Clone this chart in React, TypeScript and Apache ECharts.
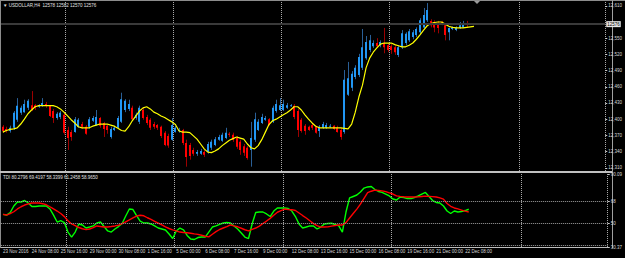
import React, { useEffect, useRef } from "react";
import * as echarts from "echarts";

// ---------- data ----------
const opens = [12386, 12382, 12378, 12384, 12399, 12412, 12413, 12421, 12426, 12426,
  12423, 12425, 12428, 12425, 12415, 12402, 12404, 12408, 12380, 12376,
  12376, 12386, 12391, 12386, 12386, 12397, 12389, 12402, 12393, 12388,
  12367, 12380, 12384, 12395, 12417, 12419, 12421, 12402, 12395, 12417,
  12404, 12399, 12391, 12389, 12386, 12375, 12369, 12362, 12376, 12378,
  12380, 12356, 12352, 12343, 12336, 12336, 12339, 12339, 12347, 12352,
  12362, 12360, 12365, 12373, 12371, 12365, 12358, 12350, 12347, 12343,
  12362, 12380, 12393, 12399, 12400, 12395, 12415, 12417, 12417, 12421,
  12425, 12425, 12415, 12399, 12388, 12386, 12389, 12386, 12378, 12384,
  12384, 12386, 12388, 12384, 12380, 12376, 12445, 12458, 12478, 12482,
  12495, 12513, 12528, 12535, 12541, 12537, 12541, 12537, 12535, 12533,
  12519, 12533, 12541, 12546, 12552, 12556, 12561, 12570, 12583, 12582,
  12580, 12578, 12580, 12574, 12561, 12567, 12565, 12569, 12570, 12578];
const closes = [12378, 12378, 12384, 12412, 12425, 12421, 12428, 12434, 12419, 12421,
  12426, 12430, 12425, 12406, 12402, 12410, 12412, 12375, 12365, 12367,
  12400, 12399, 12386, 12373, 12400, 12402, 12404, 12388, 12382, 12380,
  12382, 12384, 12402, 12437, 12434, 12428, 12400, 12408, 12421, 12402,
  12393, 12384, 12386, 12384, 12369, 12352, 12351, 12389, 12384, 12380,
  12356, 12330, 12332, 12336, 12339, 12341, 12334, 12354, 12358, 12363,
  12367, 12371, 12375, 12371, 12362, 12349, 12343, 12338, 12328, 12365,
  12400, 12395, 12404, 12402, 12389, 12421, 12428, 12426, 12428, 12426,
  12426, 12404, 12380, 12378, 12378, 12380, 12384, 12375, 12386, 12391,
  12389, 12388, 12382, 12376, 12367, 12473, 12476, 12484, 12495, 12515,
  12533, 12543, 12546, 12541, 12535, 12543, 12533, 12528, 12528, 12524,
  12533, 12559, 12558, 12563, 12561, 12567, 12583, 12593, 12602, 12574,
  12570, 12569, 12578, 12556, 12569, 12570, 12570, 12574, 12576, 12576];
const highs = [12389, 12386, 12388, 12415, 12439, 12425, 12436, 12437, 12452, 12428,
  12428, 12439, 12432, 12426, 12419, 12413, 12415, 12412, 12386, 12380,
  12404, 12402, 12395, 12389, 12404, 12406, 12417, 12404, 12395, 12391,
  12386, 12388, 12406, 12449, 12437, 12436, 12425, 12412, 12425, 12421,
  12408, 12402, 12395, 12391, 12388, 12378, 12373, 12402, 12388, 12384,
  12382, 12362, 12356, 12347, 12343, 12345, 12343, 12358, 12362, 12367,
  12371, 12375, 12384, 12376, 12375, 12369, 12362, 12354, 12350, 12395,
  12412, 12400, 12410, 12406, 12402, 12425, 12436, 12439, 12436, 12430,
  12428, 12428, 12419, 12402, 12391, 12388, 12391, 12388, 12389, 12395,
  12393, 12391, 12389, 12388, 12384, 12491, 12506, 12489, 12500, 12521,
  12567, 12554, 12556, 12546, 12550, 12546, 12569, 12541, 12539, 12537,
  12537, 12565, 12561, 12567, 12565, 12570, 12587, 12606, 12615, 12585,
  12583, 12582, 12582, 12578, 12570, 12572, 12572, 12580, 12582, 12582];
const lows = [12375, 12375, 12375, 12380, 12395, 12408, 12412, 12417, 12415, 12417,
  12421, 12423, 12421, 12404, 12393, 12399, 12400, 12371, 12343, 12360,
  12375, 12384, 12382, 12371, 12382, 12395, 12388, 12384, 12367, 12373,
  12364, 12378, 12382, 12393, 12413, 12415, 12397, 12399, 12391, 12399,
  12389, 12380, 12382, 12380, 12365, 12350, 12347, 12360, 12375, 12375,
  12352, 12312, 12325, 12332, 12332, 12334, 12330, 12336, 12343, 12350,
  12360, 12358, 12363, 12367, 12358, 12345, 12334, 12332, 12325, 12312,
  12358, 12378, 12391, 12397, 12388, 12393, 12412, 12415, 12415, 12419,
  12423, 12400, 12367, 12375, 12371, 12378, 12380, 12373, 12367, 12382,
  12382, 12384, 12380, 12375, 12362, 12373, 12443, 12452, 12474, 12478,
  12491, 12510, 12524, 12532, 12532, 12533, 12522, 12524, 12521, 12519,
  12515, 12530, 12537, 12543, 12548, 12552, 12558, 12569, 12580, 12570,
  12561, 12559, 12574, 12546, 12546, 12565, 12563, 12567, 12569, 12570];

const maValues = [12376, 12379, 12381, 12382, 12384, 12391, 12400, 12410, 12417, 12423,
  12425, 12425, 12425, 12425, 12425, 12423, 12419, 12413, 12406, 12399,
  12393, 12386, 12384, 12384, 12384, 12387, 12389, 12391, 12391, 12391,
  12389, 12387, 12383, 12379, 12378, 12386, 12397, 12406, 12415, 12421,
  12423, 12419, 12413, 12410, 12406, 12403, 12399, 12395, 12390, 12378,
  12376, 12376, 12375, 12369, 12363, 12354, 12345, 12339, 12338, 12341,
  12345, 12351, 12356, 12361, 12364, 12367, 12365, 12363, 12354, 12347,
  12345, 12351, 12362, 12376, 12390, 12397, 12400, 12404, 12408, 12412,
  12417, 12423, 12423, 12417, 12408, 12400, 12393, 12387, 12384, 12384,
  12384, 12384, 12384, 12384, 12384, 12383, 12382, 12391, 12413, 12441,
  12463, 12495, 12513, 12524, 12532, 12539, 12541, 12541, 12541, 12538,
  12536, 12534, 12534, 12537, 12541, 12548, 12556, 12565, 12573, 12577,
  12579, 12580, 12580, 12576, 12572, 12570, 12569, 12569, 12569, 12570,
  12571, 12572];

const tdiGreen = [57.1, 56.5, 58.6, 63.9, 67.2, 67.2, 68.4, 66.4, 63.5, 63.5,
  63.9, 63.9, 63.9, 61.5, 56.5, 50.8, 52.0, 50.4, 42.6, 38.5,
  42.6, 49.2, 48.4, 45.9, 46.7, 47.6, 50.0, 50.8, 47.1, 43.5,
  42.6, 45.1, 47.1, 49.6, 55.7, 61.5, 61.0, 56.1, 51.6, 50.0,
  50.0, 49.2, 47.6, 45.9, 45.1, 44.3, 41.0, 37.3, 43.5, 45.9,
  44.3, 39.8, 36.9, 36.5, 38.1, 38.5, 38.5, 42.6, 46.7, 47.6,
  48.8, 50.0, 50.4, 50.0, 47.6, 45.1, 41.8, 38.5, 37.3, 49.2,
  58.6, 59.0, 59.0, 57.4, 55.3, 59.8, 62.3, 62.3, 62.3, 61.9,
  59.8, 55.3, 49.2, 45.9, 46.7, 47.6, 47.6, 45.1, 46.7, 49.2,
  49.6, 49.8, 48.8, 47.6, 42.6, 59.0, 70.5, 71.7, 72.9, 75.4,
  78.6, 79.5, 79.9, 77.4, 75.8, 75.0, 73.7, 72.1, 69.6, 68.8,
  71.3, 70.9, 70.0, 70.0, 70.9, 72.1, 73.7, 75.0, 71.7, 68.4,
  66.8, 66.4, 63.9, 59.8, 57.8, 59.8, 59.0, 59.4, 60.2, 61.25];
const tdiRed = [57.1, 56.5, 57.6, 59.2, 61.5, 63.3, 64.7, 65.7, 66.4, 66.4,
  66.4, 65.8, 64.9, 63.3, 61.5, 59.8, 57.8, 55.2, 51.8, 49.2,
  47.8, 46.3, 45.3, 44.6, 45.1, 46.3, 47.6, 47.1, 46.7, 46.7,
  47.1, 47.6, 48.2, 49.5, 51.0, 52.5, 54.2, 55.7, 56.3, 55.9,
  54.3, 52.9, 51.4, 49.9, 48.4, 46.9, 45.5, 44.4, 43.5, 42.6,
  42.2, 42.0, 41.6, 41.1, 40.7, 40.0, 39.2, 38.7, 40.8, 42.9,
  44.7, 45.9, 47.1, 48.4, 47.6, 46.9, 45.7, 44.5, 43.6, 44.8,
  45.9, 47.5, 49.6, 51.6, 53.8, 56.3, 58.8, 60.1, 61.4, 61.1,
  60.9, 60.2, 58.2, 56.1, 54.1, 51.8, 49.5, 47.8, 46.7, 46.7,
  46.8, 47.4, 48.0, 48.4, 48.4, 50.3, 54.1, 57.8, 61.4, 65.4,
  70.1, 74.8, 76.0, 76.9, 76.6, 76.3, 75.7, 74.7, 73.7, 72.2,
  71.8, 71.5, 71.3, 71.3, 71.3, 71.4, 71.7, 72.0, 71.8, 71.6,
  71.3, 70.5, 69.5, 66.0, 63.7, 62.3, 61.5, 60.6, 59.7, 58.97];

const timeLabels = ["23 Nov 2016", "24 Nov 08:00", "25 Nov 16:00", "29 Nov 00:00", "30 Nov 08:00",
  "1 Dec 16:00", "5 Dec 00:00", "6 Dec 08:00", "7 Dec 16:00", "9 Dec 00:00", "12 Dec 08:00",
  "13 Dec 16:00", "15 Dec 00:00", "16 Dec 08:00", "19 Dec 16:00", "21 Dec 00:00", "22 Dec 08:00"];
const priceTicks = [12310, 12340, 12370, 12400, 12430, 12460, 12490, 12520, 12550, 12610];
const lastPrice = 12576;
const priceMin = 12304;
const priceMax = 12617;
const tdiLevels = [68, 50, 32];
const tdiMin = 30.37;
const tdiMax = 90.09;
const tdiLabelValues = [tdiMax, 68, 50, tdiMin];
const weekStartSlots = [18, 48, 78, 108, 144];
const SLOT_COUNT = 168;
const LABEL_STEP = 8;

const FONT = "Liberation Sans, Arial, sans-serif";

export default function App() {
  const ref = useRef<HTMLDivElement>(null);

  useEffect(() => {
    document.body.style.margin = "0";
    const chart = echarts.init(ref.current as HTMLDivElement, null, { renderer: "svg" });
    const slots = Array.from({ length: SLOT_COUNT }, (_, i) => String(i));
    const candleData = opens.map((o, i) => [i, o, closes[i], lows[i], highs[i]]);

    const labelShown = (i: number) => i % LABEL_STEP === 0 && i / LABEL_STEP < timeLabels.length;
    const gridLine = (i: number) => weekStartSlots.indexOf(i) >= 0;
    const splitLine = {
      show: true,
      interval: gridLine,
      lineStyle: { color: "#a8a8a8", type: "dotted", width: 1 },
    };

    const option: any = {
      animation: false,
      backgroundColor: "#000000",
      grid: [
        { left: 1, right: 13, top: 2, height: 169 },
        { left: 1, right: 13, top: 174, height: 73 },
      ],
      xAxis: [
        {
          type: "category", gridIndex: 0, data: slots, boundaryGap: true,
          axisLine: { show: false }, axisTick: { show: false }, axisLabel: { show: false },
          splitLine,
        },
        {
          type: "category", gridIndex: 1, data: slots, boundaryGap: true,
          axisLine: { show: true, lineStyle: { color: "#bdbdbd", width: 1 } },
          axisTick: { show: false },
          axisLabel: {
            interval: (i: number) => labelShown(i),
            formatter: (_v: string, i: number) => timeLabels[i / LABEL_STEP] ?? "",
            align: "left", fontSize: 4.5, color: "#d8d8d8", margin: 2, fontFamily: FONT,
          },
          splitLine,
        },
      ],
      yAxis: [
        {
          type: "value", gridIndex: 0, position: "right", min: priceMin, max: priceMax,
          axisLine: { show: false }, splitLine: { show: false },
          axisTick: { show: true, customValues: priceTicks, length: 2, lineStyle: { color: "#c8c8c8" } },
          axisLabel: { customValues: priceTicks, fontSize: 4.5, color: "#d8d8d8", margin: 3, fontFamily: FONT },
        },
        {
          type: "value", gridIndex: 1, position: "right", min: tdiMin, max: tdiMax,
          axisLine: { show: false }, splitLine: { show: false },
          axisTick: { show: true, customValues: tdiLabelValues, length: 2, lineStyle: { color: "#c8c8c8" } },
          axisLabel: {
            customValues: tdiLabelValues, fontSize: 4.5, color: "#d8d8d8", margin: 3, fontFamily: FONT,
            formatter: (v: number) => (tdiLevels.indexOf(v) >= 0 ? String(v) : v.toFixed(2)),
          },
        },
      ],
      series: [
        {
          name: "bid", type: "line", xAxisIndex: 0, yAxisIndex: 0, data: [], z: 1,
          markLine: {
            silent: true, symbol: "none",
            data: [{ yAxis: lastPrice }],
            lineStyle: { color: "#3a3a3a", width: 2, type: "solid" },
            label: {
              show: true, position: "end", formatter: String(lastPrice), distance: 1,
              color: "#000000", backgroundColor: "#e6e6e6", fontSize: 4.5, padding: [1, 1, 0, 1], fontFamily: FONT,
            },
          },
        },
        {
          name: "candles", type: "custom", xAxisIndex: 0, yAxisIndex: 0, z: 3,
          data: candleData,
          encode: { x: 0, y: [1, 2, 3, 4] },
          renderItem: (_params: any, api: any) => {
            const i = api.value(0);
            const o = api.value(1);
            const c = api.value(2);
            const l = api.value(3);
            const h = api.value(4);
            const pH = api.coord([i, h]);
            const pL = api.coord([i, l]);
            const pO = api.coord([i, o]);
            const pC = api.coord([i, c]);
            const xr = Math.round(pH[0]);
            const up = c >= o;
            const top = Math.min(pO[1], pC[1]);
            const hgt = Math.max(1, Math.abs(pO[1] - pC[1]));
            return {
              type: "group",
              children: [
                {
                  type: "line",
                  shape: { x1: xr + 0.5, y1: pH[1], x2: xr + 0.5, y2: pL[1] },
                  style: { stroke: up ? "#2a5f96" : "#9c0000", lineWidth: 1 },
                },
                {
                  type: "rect",
                  shape: { x: xr - 1, y: top, width: 2, height: hgt },
                  style: { fill: up ? "#2196f3" : "#ff0000" },
                },
              ],
            };
          },
        },
        {
          name: "MA", type: "line", xAxisIndex: 0, yAxisIndex: 0, data: maValues, z: 4,
          symbol: "none", lineStyle: { color: "#ffff00", width: 1.2 },
        },
        {
          name: "levels", type: "line", xAxisIndex: 1, yAxisIndex: 1, data: [], z: 1,
          markLine: {
            silent: true, symbol: "none",
            data: tdiLevels.map((v) => ({ yAxis: v })),
            lineStyle: { color: "#a0a0a0", width: 1, type: "dotted" },
            label: { show: false },
          },
        },
        {
          name: "TDI green", type: "line", xAxisIndex: 1, yAxisIndex: 1, data: tdiGreen, z: 3,
          symbol: "none", lineStyle: { color: "#00ff00", width: 1.4 },
        },
        {
          name: "TDI red", type: "line", xAxisIndex: 1, yAxisIndex: 1, data: tdiRed, z: 4,
          symbol: "none", lineStyle: { color: "#ff0000", width: 1.4 },
        },
      ],
      graphic: [
        { type: "rect", silent: true, shape: { x: 0, y: 0, width: 625, height: 1 }, style: { fill: "#8c8c8c" } },
        { type: "rect", silent: true, shape: { x: 0, y: 0, width: 1, height: 248 }, style: { fill: "#8c8c8c" } },
        { type: "rect", silent: true, shape: { x: 612, y: 0, width: 1, height: 248 }, style: { fill: "#a0a0a0" } },
        { type: "rect", silent: true, shape: { x: 0, y: 171, width: 612, height: 2 }, style: { fill: "#c0c0c0" } },
        { type: "polygon", silent: true, shape: { points: [[474, 1], [480, 1], [477, 4]] }, style: { fill: "#9a9a9a" } },
        {
          type: "text", x: 3, y: 2.5, silent: true,
          style: { text: "▼ USDOLLAR,H4  12578 12582 12570 12576", fill: "#e0e0e0", fontSize: 4.5, fontFamily: FONT, verticalAlign: "top" },
        },
        {
          type: "text", x: 3, y: 174.5, silent: true,
          style: { text: "TDI 80.2796 69.4197 58.3399 61.2458 58.9650", fill: "#e0e0e0", fontSize: 4.5, fontFamily: FONT, verticalAlign: "top" },
        },
      ],
    };

    chart.setOption(option);
    return () => chart.dispose();
  }, []);

  return <div ref={ref} style={{ width: 625, height: 258, background: "#000" }} />;
}
